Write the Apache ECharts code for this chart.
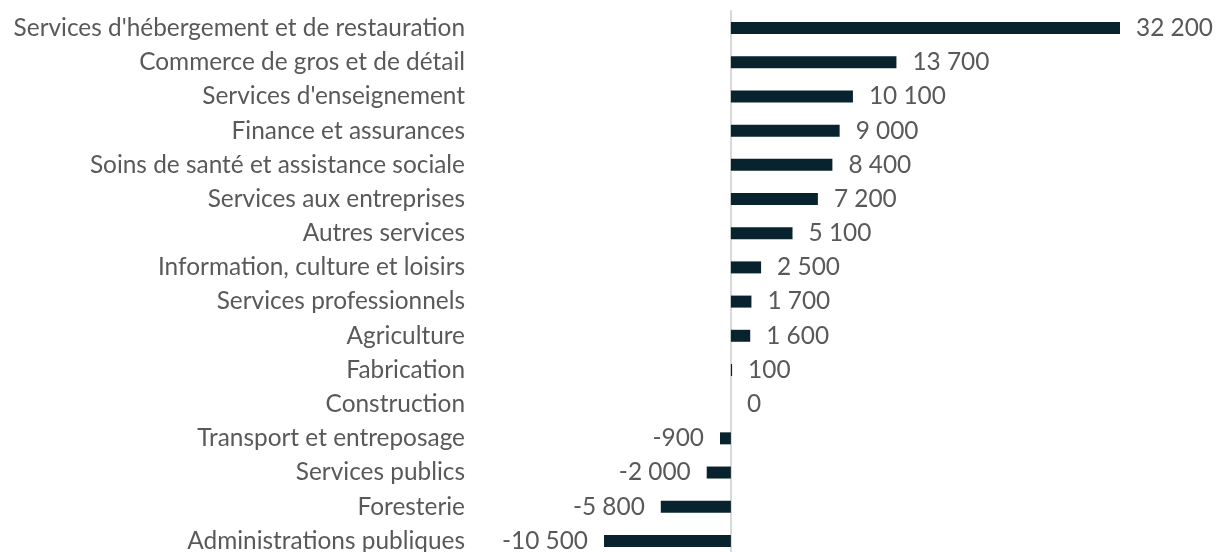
<!DOCTYPE html>
<html><head><meta charset="utf-8">
<script src="https://cdn.jsdelivr.net/npm/echarts@6/dist/echarts.min.js"></script>
<style>html,body{margin:0;padding:0;background:#fff}#c{width:1228px;height:552px}</style>
</head><body><div id="c"></div>
<script>
const categories = ["Services d'hébergement et de restauration","Commerce de gros et de détail","Services d'enseignement","Finance et assurances","Soins de santé et assistance sociale","Services aux entreprises","Autres services","Information, culture et loisirs","Services professionnels","Agriculture","Fabrication","Construction","Transport et entreposage","Services publics","Foresterie","Administrations publiques"];
const values = [32200,13700,10100,9000,8400,7200,5100,2500,1700,1600,100,0,-900,-2000,-5800,-10500];

function fmt(v){
  const s = Math.abs(v).toString().replace(/\B(?=(\d{3})+(?!\d))/g, '\u00a0');
  return (v < 0 ? '-' : '') + s;
}
const chart = echarts.init(document.getElementById('c'));
chart.setOption({
  animation:false,
  grid:{left:604, right:108, top:11, bottom:-6, containLabel:false, outerBoundsMode:'none'},
  xAxis:{type:'value', min:-10500, max:32200, show:false},
  yAxis:{type:'category', data:categories, inverse:true,
    axisLine:{show:true, onZero:true, lineStyle:{color:'#d9d9d9', width:2}},
    axisTick:{show:false},
    axisLabel:{margin:139, fontSize:24.4, color:'#595959', fontFamily:'Lato'}
  },
  series:[{type:'bar', data:values.map(v=>({value:v, label:{position: v<0?'left':'right'}})),
    barWidth:12, itemStyle:{color:'#08232e'},
    label:{show:true, distance:16, fontSize:24.4, color:'#595959', fontFamily:'Lato', formatter:p=>fmt(p.value)}
  }]
});
</script></body></html>
